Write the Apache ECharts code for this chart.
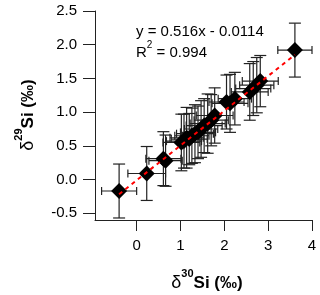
<!DOCTYPE html>
<html>
<head>
<meta charset="utf-8">
<script src="https://cdn.jsdelivr.net/npm/echarts@6/dist/echarts.min.js"></script>
<style>
html,body{margin:0;padding:0;background:#fff;}
#c{width:320px;height:295px;}
</style>
</head>
<body>
<div id="c"></div>
<script>
// δ30Si values (‰)
const d30 = [-0.40, 0.23, 0.61, 0.66, 1.02, 1.08, 1.14, 1.20, 1.26, 1.33, 1.40, 1.47, 1.54, 1.62, 1.70, 1.78, 2.05, 2.13, 2.24, 2.58, 2.66, 2.74, 2.82, 3.61];
// δ29Si values (‰)
const d29 = [-0.17, 0.09, 0.31, 0.28, 0.55, 0.57, 0.62, 0.60, 0.65, 0.68, 0.70, 0.75, 0.80, 0.83, 0.88, 0.95, 1.15, 1.13, 1.20, 1.30, 1.35, 1.40, 1.46, 1.92];
// error in δ30Si
const e30 = [0.40, 0.43, 0.40, 0.38, 0.42, 0.40, 0.38, 0.41, 0.39, 0.42, 0.40, 0.38, 0.41, 0.40, 0.39, 0.42, 0.40, 0.41, 0.38, 0.42, 0.40, 0.39, 0.41, 0.39];
// error in δ29Si
const e29 = [0.40, 0.40, 0.40, 0.38, 0.42, 0.40, 0.45, 0.38, 0.41, 0.43, 0.39, 0.42, 0.40, 0.44, 0.38, 0.41, 0.40, 0.43, 0.39, 0.42, 0.40, 0.41, 0.38, 0.40];
// fitted regression line endpoints
const fitX = [-0.40, 3.61];
const fitY = [-0.218, 1.851];
const xTicks = [0, 1, 2, 3, 4];
const yTicks = [-0.5, 0.0, 0.5, 1.0, 1.5, 2.0, 2.5];
const eqText = 'y = 0.516x - 0.0114';
const r2Text = '0.994';

const pts = d30.map((x, i) => [x, d29[i]]);
const errData = d30.map((x, i) => [x, d29[i], e30[i], e29[i]]);
const fitData = fitX.map((x, i) => [x, fitY[i]]);

const chart = echarts.init(document.getElementById('c'), null, {renderer: 'canvas'});
const axisColor = '#222';
const font = 'Liberation Sans, Arial, sans-serif';

chart.setOption({
  animation: false,
  backgroundColor: '#fff',
  grid: {left: 95, right: 8, top: 11, bottom: 75, containLabel: false},
  xAxis: {
    type: 'value', min: -0.95, max: 4,
    splitLine: {show: false},
    axisLine: {show: true, onZero: false, lineStyle: {color: axisColor, width: 1}},
    axisTick: {show: true, length: 11, customValues: xTicks, lineStyle: {color: axisColor}},
    axisLabel: {customValues: xTicks, margin: 18, color: '#000', fontSize: 15, fontFamily: font,
      formatter: v => String(v)}
  },
  yAxis: {
    type: 'value', min: -0.6, max: 2.5,
    splitLine: {show: false},
    axisLine: {show: true, onZero: false, lineStyle: {color: axisColor, width: 1}},
    axisTick: {show: true, length: 12, customValues: yTicks, lineStyle: {color: axisColor}},
    axisLabel: {customValues: yTicks, margin: 18, color: '#000', fontSize: 15, fontFamily: font,
      formatter: v => v.toFixed(1)}
  },
  series: [
    {
      type: 'custom',
      z: 1,
      data: errData,
      renderItem: function (params, api) {
        const x = api.value(0), y = api.value(1), ex = api.value(2), ey = api.value(3);
        const c = api.coord([x, y]);
        const l = api.coord([x - ex, y]), r = api.coord([x + ex, y]);
        const t = api.coord([x, y + ey]), b = api.coord([x, y - ey]);
        const st = {stroke: '#222', lineWidth: 1.2};
        const cx = 4, cy = 6;
        return {
          type: 'group',
          children: [
            {type: 'line', shape: {x1: l[0], y1: c[1], x2: r[0], y2: c[1]}, style: st},
            {type: 'line', shape: {x1: l[0], y1: c[1] - cx, x2: l[0], y2: c[1] + cx}, style: st},
            {type: 'line', shape: {x1: r[0], y1: c[1] - cx, x2: r[0], y2: c[1] + cx}, style: st},
            {type: 'line', shape: {x1: c[0], y1: t[1], x2: c[0], y2: b[1]}, style: st},
            {type: 'line', shape: {x1: c[0] - cy, y1: t[1], x2: c[0] + cy, y2: t[1]}, style: st},
            {type: 'line', shape: {x1: c[0] - cy, y1: b[1], x2: c[0] + cy, y2: b[1]}, style: st}
          ]
        };
      }
    },
    {
      type: 'scatter', z: 2,
      data: pts,
      symbol: 'diamond', symbolSize: 16,
      itemStyle: {color: '#000', opacity: 1}
    },
    {
      type: 'line', z: 3,
      data: fitData,
      symbol: 'none',
      lineStyle: {color: '#ff0000', width: 2, type: [4, 4]}
    }
  ],
  graphic: [
    {
      type: 'text', left: 136, top: 24,
      style: {text: eqText, fontSize: 15, fontFamily: font, fill: '#000'}
    },
    {
      type: 'text', left: 136, top: 40,
      style: {
        text: '{m|R}{s|2}{m| = ' + r2Text + '}',
        rich: {
          m: {fontSize: 15, fontFamily: font, fill: '#000', lineHeight: 20, verticalAlign: 'bottom'},
          s: {fontSize: 10, fontFamily: font, fill: '#000', lineHeight: 20, verticalAlign: 'top'}
        }
      }
    },
    {
      type: 'text', x: 207, y: 280,
      style: {
        text: '{d|δ}{s|30}{b|Si (‰)}',
        align: 'center', verticalAlign: 'middle',
        rich: {
          d: {fontSize: 18, fontFamily: font, fill: '#000', lineHeight: 24, verticalAlign: 'bottom'},
          s: {fontSize: 11, fontWeight: 'bold', fontFamily: font, fill: '#000', lineHeight: 24, verticalAlign: 'top'},
          b: {fontSize: 17, fontWeight: 'bold', fontFamily: font, fill: '#000', lineHeight: 24, verticalAlign: 'bottom'}
        }
      }
    },
    {
      type: 'text', x: 25, y: 115, rotation: Math.PI / 2,
      style: {
        text: '{d|δ}{s|29}{b|Si (‰)}',
        align: 'center', verticalAlign: 'middle',
        rich: {
          d: {fontSize: 18, fontFamily: font, fill: '#000', lineHeight: 24, verticalAlign: 'bottom'},
          s: {fontSize: 11, fontWeight: 'bold', fontFamily: font, fill: '#000', lineHeight: 24, verticalAlign: 'top'},
          b: {fontSize: 17, fontWeight: 'bold', fontFamily: font, fill: '#000', lineHeight: 24, verticalAlign: 'bottom'}
        }
      }
    }
  ]
});
</script>
</body>
</html>
